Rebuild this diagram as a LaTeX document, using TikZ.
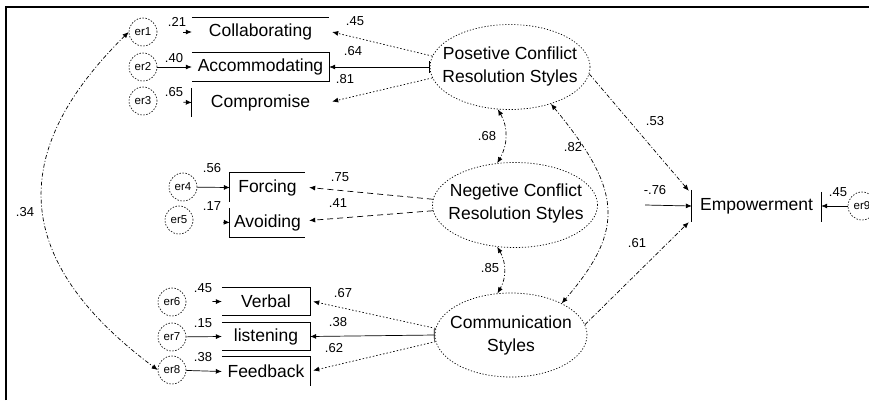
\documentclass[tikz,border=0pt]{standalone}
\usepackage{fontspec}
\setmainfont{Liberation Sans}
\usetikzlibrary{shapes.geometric,arrows.meta,calc}
\begin{document}
\begin{tikzpicture}[x=1pt,y=-1pt,
  big/.style={font=\fontsize{17.5}{23}\selectfont, inner sep=0pt},
  num/.style={font=\fontsize{13}{15}\selectfont, inner sep=0pt},
  err/.style={draw, circle, minimum size=28pt, inner sep=0pt, font=\fontsize{11.5}{13}\selectfont, dash pattern=on 1.5pt off 1.5pt, line width=0.6pt},
  obs/.style={rectangle, inner sep=0pt, font=\fontsize{17.5}{23}\selectfont},
  lat/.style={draw, ellipse, inner sep=0pt, dash pattern=on 1.2pt off 1.8pt, line width=0.7pt},
  edge/.style={line width=0.7pt},
  tip/.style={-{Latex[length=6pt,width=5pt]}},
  bartip/.style={{Bar[width=12pt]}-{Latex[length=6pt,width=5pt]}},
  both/.style={{Latex[length=6pt,width=5pt]}-{Latex[length=6pt,width=5pt]}},
  dotl/.style={dash pattern=on 1.5pt off 2pt},
  dashl/.style={dash pattern=on 6pt off 4pt},
  ddot/.style={dash pattern=on 4pt off 2pt on 1pt off 2pt}
]
\fill[white] (0,0) rectangle (869,400);
\useasboundingbox (0,0) rectangle (869,400);
\draw[line width=2pt] (6,400) -- (6,7) -- (869,7);

% error terms
\node[err] (er1) at (143,32) {er1};
\node[err] (er2) at (143,67) {er2};
\node[err] (er3) at (143,101) {er3};
\node[err] (er4) at (183,187) {er4};
\node[err] (er5) at (179,220) {er5};
\node[err] (er6) at (172,302) {er6};
\node[err] (er7) at (172,337) {er7};
\node[err] (er8) at (172,370) {er8};
\node[err] (er9) at (862,206) {er9};

% observed variables
\node[obs, minimum width=137pt, minimum height=28pt] (collab) at (260.5,32) {Collaborating};
\node[obs, minimum width=137pt, minimum height=28pt] (accom) at (260.5,67) {Accommodating};
\node[obs, minimum width=137pt, minimum height=29pt] (comp) at (260.5,102.5) {Compromise};
\node[obs, minimum width=75pt, minimum height=29pt] (forc) at (267.5,187.5) {Forcing};
\node[obs, minimum width=75pt, minimum height=29pt] (avoid) at (267.5,222.5) {Avoiding};
\node[obs, minimum width=88pt, minimum height=27pt] (verb) at (266,301.5) {Verbal};
\node[obs, minimum width=88pt, minimum height=27pt] (listen) at (266,336.5) {listening};
\node[obs, minimum width=88pt, minimum height=29pt] (feed) at (266,371.5) {Feedback};
\node[obs, minimum width=129pt, minimum height=32pt] (emp) at (756.5,206) {Empowerment};

\draw[edge] (collab.north west) -- (collab.north east);
\draw[edge] (accom.north west) -- (accom.north east) -- (accom.south east) -- (accom.south west);
\draw[edge] (comp.north west) -- (comp.south west);
\draw[edge] (forc.south west) -- (forc.north west) -- (forc.north east);
\draw[edge] (avoid.north west) -- (avoid.south west) -- (avoid.south east);
\draw[edge] (verb.north west) -- (verb.north east) -- (verb.south east) -- (verb.south west);
\draw[edge] (listen.north west) -- (listen.north east) -- (listen.south east) -- (listen.south west);
\draw[edge] (feed.north west) -- (feed.north east) -- (feed.south east);
\draw[edge] (emp.north west) -- (emp.south west);
\draw[edge] ($(emp.north east)+(0,2)$) -- (emp.south east);

% latent variables
\node[lat, minimum width=160pt, minimum height=85pt] (pos) at (510,67) {};
\node[big, align=center] (posT) at (510,66.5) {Posetive Confilict\\Resolution Styles};
\node[lat, minimum width=165pt, minimum height=85pt] (neg) at (515,205) {};
\node[big, align=center] (negT) at (516,203.5) {Negetive Conflict\\Resolution Styles};
\node[lat, minimum width=152pt, minimum height=84pt] (com) at (511,335) {};
\node[big, align=center] (comT) at (511,335) {Communication\\Styles};

% error arrows
\draw[edge, tip, shorten <=26pt] (er1) -- (collab.west);
\draw[edge, tip] (er2) -- (accom.west);
\draw[edge, tip, shorten <=26pt] (er3) -- (comp.west);
\draw[edge, tip] (er4) -- (forc.west);
\draw[edge, tip, shorten <=30pt] (er5) -- (avoid.west);
\draw[edge, tip, shorten <=26pt] (er6) -- (verb.west);
\draw[edge, tip] (er7) -- (listen.west);
\draw[edge, tip] (er8) -- (feed.west);
\draw[edge, tip] (er9) -- (emp.east);

% loadings
\draw[edge, tip, dotl] (pos.172) -- ($(collab.east)+(3,0)$);
\draw[edge, bartip] (pos.west) -- (accom.east);
\draw[edge, tip, dotl] (pos.188) -- ($(comp.east)+(3,-1)$);
\draw[edge, tip, dashl] (neg.176) -- ($(forc.east)+(4,0)$);
\draw[edge, tip, dashl] (neg.184) -- ($(avoid.east)+(4,-2)$);
\draw[edge, tip, dotl] (com.175) -- ($(verb.east)+(3,0)$);
\draw[edge, bartip] (com.west) -- (listen.east);
\draw[edge, tip, dotl] (com.185) -- ($(feed.east)+(3,-1)$);

% structural paths
\draw[edge, tip, ddot] (pos.355) -- ($(emp.north west)+(-3,1)$);
\draw[edge, tip, ddot] (com.8) -- ($(emp.south west)+(-3,0)$);
\coordinate (m76) at (645,205);
\draw[edge, tip] (m76) -- (emp.west);

% covariances
\draw[edge, both, ddot] (pos.254) to[out=-60,in=60] (neg.113);
\draw[edge, both, ddot] (neg.247) to[out=-60,in=60] (com.108);
\draw[edge, both, ddot] (pos.318) .. controls +(70,85) and +(65,-75) .. (com.32);
\draw[edge, both, ddot] (er1.west) .. controls (6,153) and (12,261) .. (er8.west);

% labels
\node[num] (l21) at (177,22) {.21};
\node[num] (l40) at (174,58) {.40};
\node[num] (l65) at (174,92) {.65};
\node[num] (l45a) at (355,21) {.45};
\node[num] (l64) at (353,51) {.64};
\node[num] (l81) at (345,79) {.81};
\node[num] (l56) at (212,168) {.56};
\node[num] (l17) at (212,206) {.17};
\node[num] (l75) at (340,177) {.75};
\node[num] (l41) at (338,203) {.41};
\node[num] (l45b) at (203,288) {.45};
\node[num] (l15) at (203,323) {.15};
\node[num] (l38a) at (203,357) {.38};
\node[num] (l67) at (343,293) {.67};
\node[num] (l38b) at (338,322) {.38};
\node[num] (l62) at (334,348) {.62};
\node[num] (l68) at (487,136) {.68};
\node[num] (l82) at (573,147) {.82};
\node[num] (l85) at (490,268) {.85};
\node[num] (l53) at (655,121) {.53};
\node[num] (l76) at (655,190) {-.76};
\node[num] (l61) at (637,243) {.61};
\node[num] (l45c) at (838,192) {.45};
\node[num] (l34) at (25,212) {.34};
\end{tikzpicture}
\end{document}
